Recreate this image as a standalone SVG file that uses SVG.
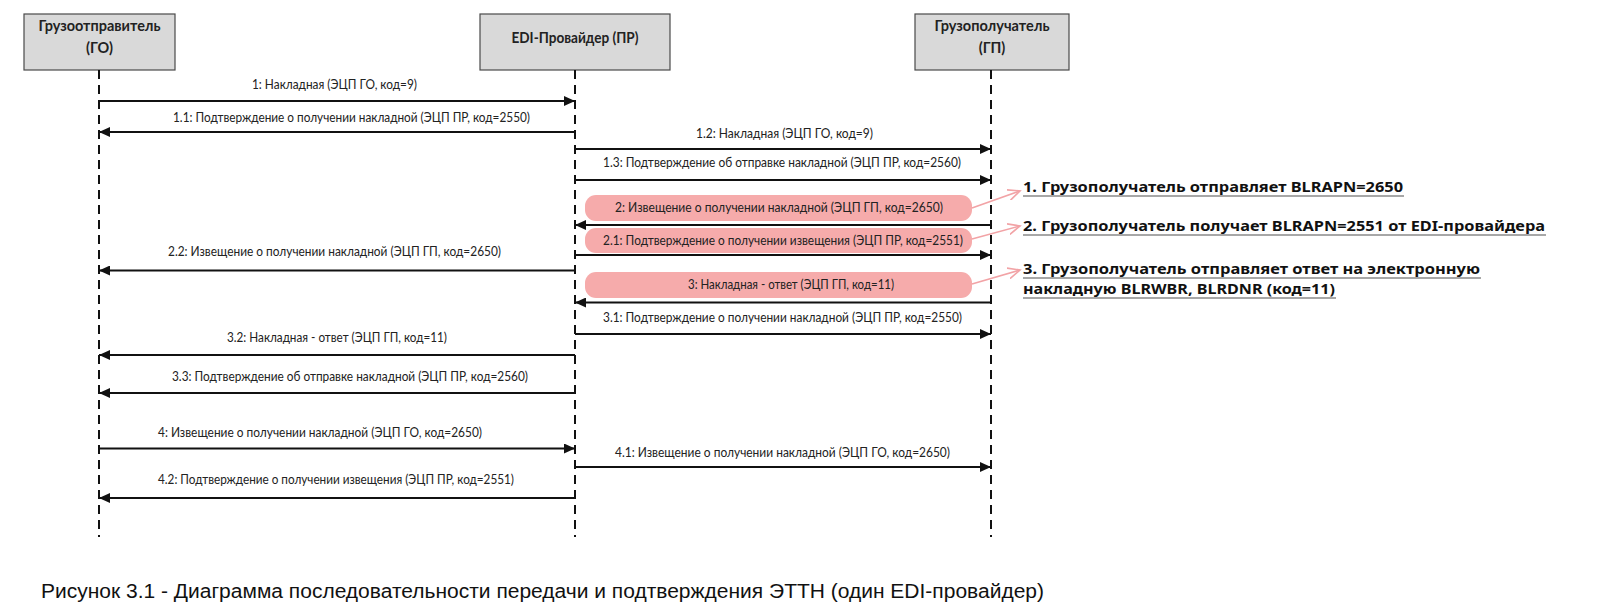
<svg xmlns="http://www.w3.org/2000/svg" width="1613" height="614" viewBox="0 0 1613 614">
<style>
.head{fill:#d9d9d9;stroke:#4a4a4a;stroke-width:1.2}
.ht{font-family:Lato,"Open Sans",sans-serif;font-weight:bold;font-size:14.5px;fill:#222;text-anchor:middle}
.life{stroke:#111;stroke-width:2;stroke-dasharray:9 6;fill:none}
.msg{stroke:#111;stroke-width:2;fill:none}
.lbl{font-family:Lato,"Open Sans",sans-serif;font-size:12.5px;fill:#222}
.pink{fill:#f6abab;stroke:none}
.plink{stroke:#f2a3a6;stroke-width:1.6;fill:none}
.note{font-family:"Noto Sans","Open Sans",sans-serif;font-weight:bold;font-size:15px;fill:#111}
.ul{stroke:#8a8a8a;stroke-width:1.5}
.cap{font-family:"Liberation Sans",Arial,sans-serif;font-size:19.5px;fill:#111}
</style>
<defs>
<marker id="ah" markerUnits="userSpaceOnUse" markerWidth="12" markerHeight="10" refX="11" refY="5" orient="auto">
<path d="M0,0 L11,5 L0,10 z" fill="#111"/>
</marker>
<marker id="pa" markerUnits="userSpaceOnUse" markerWidth="14" markerHeight="12" refX="12" refY="6" orient="auto">
<path d="M0,0.5 L12,6 L0,11.5" fill="none" stroke="#f2a3a6" stroke-width="1.6"/>
</marker>
</defs>
<rect width="1613" height="614" fill="#fff"/>

<g id="go">
<rect class="head" x="24" y="14" width="151" height="56"/>
<text class="ht" x="99.5" y="31" textLength="122" lengthAdjust="spacingAndGlyphs">Грузоотправитель</text>
<text class="ht" x="99.5" y="53">(ГО)</text>
<line class="life" x1="99" y1="70" x2="99" y2="537"/>
</g>
<g id="pr">
<rect class="head" x="480" y="14" width="190" height="56"/>
<text class="ht" x="575" y="43" textLength="127" lengthAdjust="spacingAndGlyphs">EDI-Провайдер (ПР)</text>
<line class="life" x1="575" y1="70" x2="575" y2="537"/>
</g>
<g id="gp">
<rect class="head" x="915" y="14" width="154" height="56"/>
<text class="ht" x="992" y="31" textLength="115" lengthAdjust="spacingAndGlyphs">Грузополучатель</text>
<text class="ht" x="992" y="53">(ГП)</text>
<line class="life" x1="991" y1="70" x2="991" y2="537"/>
</g>

<g id="highlights">
<rect class="pink" x="585" y="195" width="387" height="26" rx="11"/>
<rect class="pink" x="585" y="228" width="387" height="25" rx="11"/>
<rect class="pink" x="585" y="272" width="387" height="26" rx="11"/>
</g>

<g id="connectors">
<line class="msg" x1="99" y1="101" x2="575" y2="101" marker-end="url(#ah)"/>
<line class="msg" x1="575" y1="132" x2="99" y2="132" marker-end="url(#ah)"/>
<line class="msg" x1="575" y1="149" x2="991" y2="149" marker-end="url(#ah)"/>
<line class="msg" x1="575" y1="180" x2="991" y2="180" marker-end="url(#ah)"/>
<line class="msg" x1="991" y1="225" x2="575" y2="225" marker-end="url(#ah)"/>
<line class="msg" x1="575" y1="255" x2="991" y2="255" marker-end="url(#ah)"/>
<line class="msg" x1="575" y1="270.5" x2="99" y2="270.5" marker-end="url(#ah)"/>
<line class="msg" x1="991" y1="302.5" x2="575" y2="302.5" marker-end="url(#ah)"/>
<line class="msg" x1="575" y1="334" x2="991" y2="334" marker-end="url(#ah)"/>
<line class="msg" x1="575" y1="355" x2="99" y2="355" marker-end="url(#ah)"/>
<line class="msg" x1="575" y1="393" x2="99" y2="393" marker-end="url(#ah)"/>
<line class="msg" x1="99" y1="448.5" x2="575" y2="448.5" marker-end="url(#ah)"/>
<line class="msg" x1="575" y1="467" x2="991" y2="467" marker-end="url(#ah)"/>
<line class="msg" x1="575" y1="498" x2="99" y2="498" marker-end="url(#ah)"/>
<line class="plink" x1="972" y1="208" x2="1020" y2="191" marker-end="url(#pa)"/>
<line class="plink" x1="972" y1="239" x2="1020" y2="226" marker-end="url(#pa)"/>
<line class="plink" x1="972" y1="284" x2="1020" y2="270" marker-end="url(#pa)"/>
</g>

<g id="labels">
<text class="lbl" x="252" y="88.5" textLength="165" lengthAdjust="spacingAndGlyphs">1: Накладная (ЭЦП ГО, код=9)</text>
<text class="lbl" x="173" y="121.5" textLength="357" lengthAdjust="spacingAndGlyphs">1.1: Подтверждение о получении накладной (ЭЦП ПР, код=2550)</text>
<text class="lbl" x="696" y="138" textLength="177" lengthAdjust="spacingAndGlyphs">1.2: Накладная (ЭЦП ГО, код=9)</text>
<text class="lbl" x="603" y="167" textLength="358" lengthAdjust="spacingAndGlyphs">1.3: Подтверждение об отправке накладной (ЭЦП ПР, код=2560)</text>
<text class="lbl" x="615" y="211.5" textLength="328" lengthAdjust="spacingAndGlyphs">2: Извещение о получении накладной (ЭЦП ГП, код=2650)</text>
<text class="lbl" x="603" y="245" textLength="360" lengthAdjust="spacingAndGlyphs">2.1: Подтверждение о получении извещения (ЭЦП ПР, код=2551)</text>
<text class="lbl" x="168" y="256" textLength="333" lengthAdjust="spacingAndGlyphs">2.2: Извещение о получении накладной (ЭЦП ГП, код=2650)</text>
<text class="lbl" x="688" y="289" textLength="206" lengthAdjust="spacingAndGlyphs">3: Накладная - ответ (ЭЦП ГП, код=11)</text>
<text class="lbl" x="603" y="322" textLength="359" lengthAdjust="spacingAndGlyphs">3.1: Подтверждение о получении накладной (ЭЦП ПР, код=2550)</text>
<text class="lbl" x="227" y="341.5" textLength="220" lengthAdjust="spacingAndGlyphs">3.2: Накладная - ответ (ЭЦП ГП, код=11)</text>
<text class="lbl" x="172" y="380.5" textLength="356" lengthAdjust="spacingAndGlyphs">3.3: Подтверждение об отправке накладной (ЭЦП ПР, код=2560)</text>
<text class="lbl" x="158" y="437" textLength="324" lengthAdjust="spacingAndGlyphs">4: Извещение о получении накладной (ЭЦП ГО, код=2650)</text>
<text class="lbl" x="615" y="456.5" textLength="335" lengthAdjust="spacingAndGlyphs">4.1: Извещение о получении накладной (ЭЦП ГО, код=2650)</text>
<text class="lbl" x="158" y="483.5" textLength="356" lengthAdjust="spacingAndGlyphs">4.2: Подтверждение о получении извещения (ЭЦП ПР, код=2551)</text>
</g>

<g id="notes">
<text class="note" x="1023" y="191.5" textLength="380" lengthAdjust="spacingAndGlyphs">1. Грузополучатель отправляет BLRAPN=2650</text>
<line class="ul" x1="1023" y1="196" x2="1404" y2="196"/>
<text class="note" x="1023" y="230.5" textLength="522" lengthAdjust="spacingAndGlyphs">2. Грузополучатель получает BLRAPN=2551 от EDI-провайдера</text>
<line class="ul" x1="1023" y1="235" x2="1546" y2="235"/>
<text class="note" x="1023" y="274" textLength="457" lengthAdjust="spacingAndGlyphs">3. Грузополучатель отправляет ответ на электронную</text>
<line class="ul" x1="1023" y1="278" x2="1481" y2="278"/>
<text class="note" x="1023" y="294" textLength="312" lengthAdjust="spacingAndGlyphs">накладную BLRWBR, BLRDNR (код=11)</text>
<line class="ul" x1="1023" y1="298" x2="1336" y2="298"/>
</g>

<g id="caption">
<text class="cap" x="41" y="598" textLength="1003" lengthAdjust="spacingAndGlyphs">Рисунок 3.1 - Диаграмма последовательности передачи и подтверждения ЭТТН (один EDI-провайдер)</text>
</g>
</svg>
